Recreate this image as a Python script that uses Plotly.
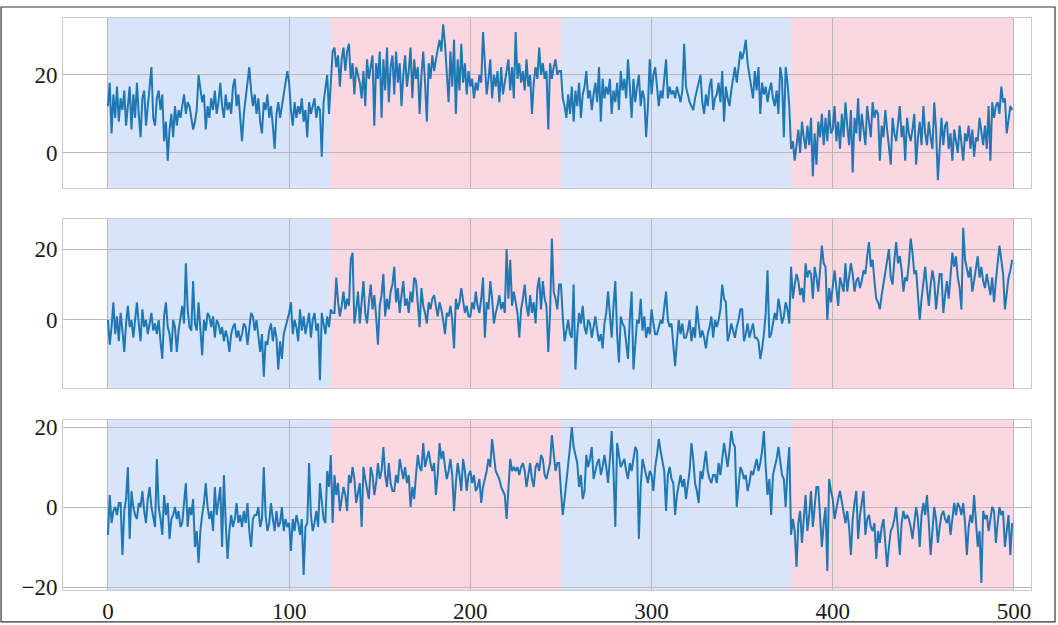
import plotly.graph_objects as go

# Time index and regime change points
steps = list(range(500))
change_points = [0, 123, 250, 377, 500]
regime_colors = ["#d8e4f9", "#fad7e1", "#d8e4f9", "#fad7e1"]

x_ticks = [0, 100, 200, 300, 400, 500]
y_ticks_a = [0, 20]
y_ticks_b = [0, 20]
y_ticks_c = [-20, 0, 20]

# Channel A
series_a = [
    12, 18, 5, 15, 9, 17, 8, 14, 11, 16, 7, 13, 17, 6, 15, 9, 18, 10, 4, 14, 16, 7, 12, 17, 22,
    9, 7, 14, 16, 11, 15, 3, 8, -2, 6, 10, 4, 12, 7, 11, 9, 12, 15, 10, 13, 12, 9, 6, 8, 11,
    20, 16, 13, 15, 6, 12, 9, 14, 11, 16, 10, 13, 18, 12, 9, 15, 11, 13, 10, 17, 19, 12, 15, 9, 3,
    10, 14, 19, 22, 16, 12, 15, 10, 14, 8, 5, 13, 11, 15, 9, 12, 7, 1, 10, 13, 9, 12, 15, 19, 21,
    18, 11, 7, 13, 9, 12, 10, 14, 8, 11, 4, 13, 10, 12, 14, 9, 12, 11, -1, 13, 17, 20, 10, 19, 26,
    27, 22, 25, 17, 24, 27, 21, 26, 28, 19, 23, 15, 22, 20, 18, 14, 21, 12, 24, 19, 22, 25, 7, 23, 19,
    26, 9, 24, 16, 27, 13, 22, 25, 15, 26, 18, 23, 12, 20, 25, 17, 21, 27, 14, 24, 19, 22, 10, 20, 26,
    18, 8, 23, 19, 25, 21, 24, 27, 29, 26, 33, 28, 21, 13, 26, 17, 29, 10, 24, 16, 28, 18, 23, 15, 21,
    17, 19, 14, 18, 16, 20, 18, 31, 22, 15, 19, 24, 14, 20, 17, 21, 13, 22, 15, 18, 20, 24, 16, 22, 14,
    31, 19, 23, 18, 21, 16, 24, 17, 20, 10, 18, 22, 19, 27, 20, 23, 19, 21, 6, 23, 19, 22, 24, 20, 21,
    21, 14, 12, 9, 15, 10, 17, 8, 16, 12, 18, 9, 15, 17, 21, 14, 16, 11, 15, 18, 13, 22, 8, 19, 14,
    17, 15, 19, 10, 16, 13, 18, 11, 21, 16, 19, 14, 24, 17, 9, 19, 13, 17, 20, 12, 16, 14, 4, 12, 24,
    15, 20, 22, 17, 12, 16, 14, 19, 24, 14, 17, 15, 16, 14, 17, 15, 13, 16, 28, 17, 15, 13, 12, 11, 14,
    16, 18, 20, 13, 10, 15, 12, 17, 19, 11, 14, 15, 18, 13, 21, 8, 17, 14, 12, 16, 19, 22, 18, 23, 26,
    24, 26, 29, 23, 20, 17, 14, 21, 16, 22, 10, 18, 15, 17, 13, 16, 18, 14, 12, 16, 10, 22, 19, 4, 22,
    18, 12, 1, 3, -2, 2, 6, 0, 8, 4, 1, 7, 2, 9, -6, 5, -3, 8, 4, 10, 2, 9, 3, 11, 5,
    6, 12, 3, 8, 1, 10, 4, 13, 7, 2, 11, -5, 9, 5, 14, 3, 10, 6, 2, 12, 8, 4, 13, 9, 11,
    10, -2, 7, 4, 11, 6, 1, -3, 9, 5, 3, 8, 12, 4, 7, -2, 9, 5, 3, 6, 10, -3, 4, 8, 2,
    12, 5, 2, 8, 4, 1, 13, 6, -7, 3, 9, 2, 7, 8, 1, 5, -2, 6, 3, 0, 7, 2, -2, 5, 3,
    7, 1, 6, -1, 4, 3, 9, 5, 2, 7, 1, 12, -2, 13, 9, 12, 13, 10, 17, 13, 14, 5, 9, 12, 11,
]

# Channel B
series_b = [
    0, -7, -2, 5, -4, 1, -6, 2, -3, -9, -1, 4, -2, 0, -5, 1, 5, -1, -6, 3, -2, 0, -4, -1, 2,
    -3, -1, -4, 0, -6, -11, 1, 5, -2, -4, -9, 0, -2, -9, -3, 1, 4, -1, 16, 3, -2, -3, 11, -1, -3,
    5, -4, -10, 0, -3, 2, 1, -2, 1, -5, 0, -1, -4, -2, -6, -3, -5, -9, -4, -2, -1, -5, -3, -6, -4,
    -1, -2, -7, -3, 2, 1, -3, 0, -5, -9, -4, -16, -6, -7, -3, -1, -6, -2, -5, -14, -6, -11, -4, -2, 0,
    2, 5, -4, 0, -2, -6, 3, -3, 1, -4, -1, 2, -5, 0, 2, -3, -1, -17, 2, -1, -4, 1, -2, 3, 2,
    2, 12, 5, 1, 4, 8, 3, 6, 4, 17, 19, -1, 3, 8, -1, 4, 11, 2, -1, 5, 10, 3, 7, 1, -7,
    4, 7, 13, 1, 6, 3, 8, 10, 15, 5, 9, 2, 7, 11, 4, 6, 2, 8, 5, 12, 11, 3, -2, 9, 4,
    2, -1, 5, 3, 6, 7, 4, 1, 5, 3, 0, -4, 2, 1, 4, 0, -8, 6, 3, 5, 9, 6, 2, 4, 1,
    1, 5, 3, 8, 4, 2, 6, 12, -5, 5, 3, 11, 6, -1, 2, 4, 7, 3, 5, 2, 20, 6, 17, 4, 8,
    5, 2, -5, 3, 6, 10, 4, 1, 7, 2, 5, -1, 9, 12, 3, 11, 6, 4, -9, 2, 23, 8, 6, 3, 10,
    10, 1, -6, -3, 0, -4, -5, 10, -14, -4, 2, -1, 4, -2, -4, 0, -1, -5, -2, 1, -3, -6, -4, -8, -1,
    2, 8, 0, -5, 4, 11, -4, -12, 1, -1, -2, -6, -11, 0, 8, -14, -8, 0, -1, 6, -3, 1, -5, -2, -4,
    3, -1, -4, -4, -2, 0, -1, 3, 8, 0, -2, -1, -6, -13, -6, 0, -4, -1, -5, -5, -3, 0, -6, -2, -5,
    4, -1, -5, -3, -5, -8, -4, -2, 1, -5, 0, -2, 0, 3, 10, 6, 5, -6, -4, -1, -3, -5, -2, 0, 3,
    3, -6, -4, -1, -5, -3, -1, -5, -5, -6, -11, -8, -4, 2, 14, -5, -4, -1, 2, 0, 6, 3, -1, 1, 5,
    3, -1, 15, 6, 10, 13, 11, 7, 9, 5, 16, 12, 14, 13, 6, 15, 12, 8, 14, 21, 16, 15, 0, 9, 5,
    10, 14, 9, 4, 12, 10, 8, 16, 8, 12, 16, 13, 8, 11, 12, 9, 11, 14, 13, 18, 22, 15, 17, 11, 6,
    5, 3, 7, 10, 13, 16, 20, 12, 10, 17, 22, 16, 18, 14, 8, 12, 11, 16, 23, 19, 13, 14, 8, 0, 6,
    11, 15, 9, 4, 10, 14, 11, 3, 8, 13, 13, 2, 7, 11, 6, 12, 19, 15, 18, 12, 9, 3, 26, 17, 14,
    12, 15, 8, 11, 14, 18, 12, 15, 11, 9, 13, 10, 7, 12, 5, 11, 16, 21, 17, 13, 3, 8, 12, 14, 17,
]

# Channel C
series_c = [
    -7, 3, -4, -1, 0, -2, 1, 1, -12, -1, 2, 10, -8, 4, 0, -2, -3, 1, 0, 4, -1, -4, 2, 5, 0,
    -3, -5, 12, 0, -3, -7, 3, -2, 1, -8, -3, -2, 0, -3, -1, -5, -4, 2, 6, -5, 0, -2, 2, -10, -6,
    -14, -6, -2, 1, 6, 0, -3, -1, -6, 5, -2, 1, 5, -10, 8, -4, -13, -6, -2, -5, -3, 1, -4, -2, -5,
    -1, -4, 1, -6, -10, -3, -2, -2, 0, -5, -3, 10, -2, -6, -4, 1, -3, -6, -1, -5, -4, 0, -6, -3, -5,
    -4, -11, -3, -6, -2, -4, -7, -3, -17, -5, -4, 11, -2, -6, -4, -1, -5, 6, 2, -3, -4, 9, 5, 13, -4,
    8, 3, 6, -1, 2, 5, 3, -1, 8, 6, 10, 7, 1, 4, 6, -5, 10, 7, 4, 2, 10, 8, 3, 6, 11,
    7, 9, 15, 8, 5, 11, 6, 4, 4, 8, 6, 12, 9, 7, 10, 6, 8, 0, 5, 2, 8, 13, 10, 9, 16,
    10, 12, 14, 11, 9, 11, 3, 8, 16, 12, 14, 10, 7, 9, 12, 8, -1, 6, 11, 8, 4, 12, 9, 4, 8,
    9, 6, 8, 4, 5, 7, 1, 5, 7, 9, 12, 10, 17, 13, 9, 8, 7, 5, 4, 3, -3, 6, 12, 9, 10,
    9, 10, 8, 10, 11, 9, 5, 8, 11, 7, 5, 10, 11, 9, 13, 12, 8, 7, 9, 11, 18, 14, 9, 11, 11,
    4, -2, 2, 6, 10, 15, 20, 15, 13, 11, 5, 8, 2, 4, 13, 10, 12, 15, 7, 9, 11, 12, 8, 10, 13,
    10, 6, 12, 19, 9, -5, 16, 13, 10, 11, 12, 9, 7, 11, 9, 12, 15, 14, -8, 5, 12, 10, 8, 6, 9,
    8, 4, 10, 13, 17, 14, 11, 9, -1, 8, 10, 7, 6, -2, 3, 6, 8, 5, 7, 2, 6, 9, 16, 12, 6,
    4, 1, 9, 7, 11, 14, 9, 7, 6, 8, 8, 6, 11, 8, 12, 16, 13, 10, 14, 19, 16, 15, 0, 5, 10,
    9, 7, 8, 4, 6, 9, 8, 10, 12, 9, 11, 14, 19, 10, 3, 7, -2, 8, 10, 12, 15, 11, 8, 7, 0,
    9, 15, -7, -3, -6, -15, -4, -1, -9, -2, 3, -6, -2, 4, -5, 0, 5, 5, -3, -10, -4, 0, -16, 7, 4,
    2, -3, 0, 2, 4, 1, -2, -4, -1, -5, -12, -3, 1, 4, -8, -2, 1, 4, -7, -3, -2, -5, -6, -4, -13,
    -6, -9, -5, -3, -8, -15, -10, -6, -5, -3, 0, -7, -12, -4, -1, -3, -2, -3, -5, -8, -4, 0, -3, -10, -2,
    1, -2, 3, -4, -12, -6, 0, -3, -9, -5, -2, -1, -3, -4, -2, -7, -3, 1, -2, 1, 0, -2, 1, -4, -12,
    -5, -2, -4, 3, -3, -10, -6, -19, -1, -3, -2, -6, -3, 0, -1, -9, -4, 0, -2, -1, -10, -6, -2, -12, -4,
]

assert len(series_a) == len(series_b) == len(series_c) == len(steps)

FONT = dict(family="Liberation Serif", size=23, color="#1a1a1a")
GRID = "#b8b8b8"
FRAME = "#cacaca"

panels = [
    # (axis suffix, values, y ticks, y range, y domain)
    ("", series_a, y_ticks_a, [-9.0, 34.6], [0.7028, 1.0]),
    ("2", series_b, y_ticks_b, [-19.2, 28.5], [0.3531, 0.6486]),
    ("3", series_c, y_ticks_c, [-20.75, 21.75], [0.0, 0.2972]),
]

fig = go.Figure()
shapes = []
layout = {}

for i, (sfx, values, yt, yr, dom) in enumerate(panels):
    fig.add_trace(go.Scatter(
        x=steps, y=values, mode="lines",
        line=dict(color="#1f77b4", width=2),
        xaxis="x" + sfx, yaxis="y" + sfx,
        showlegend=False, hoverinfo="skip",
    ))
    layout["xaxis" + sfx] = dict(
        domain=[0, 1], anchor="y" + sfx, range=[-24.8, 509.4],
        tickmode="array", tickvals=x_ticks, ticktext=[str(t) for t in x_ticks],
        showticklabels=(i == 2), ticks="", automargin=False,
        showgrid=True, gridcolor=GRID, gridwidth=1, zeroline=False,
        showline=True, mirror=True, linecolor=FRAME, linewidth=1,
        tickfont=FONT,
    )
    layout["yaxis" + sfx] = dict(
        domain=dom, anchor="x" + sfx, range=yr,
        tickmode="array", tickvals=yt, ticks="", automargin=False,
        showgrid=True, gridcolor=GRID, gridwidth=1, zeroline=False,
        showline=True, mirror=True, linecolor=FRAME, linewidth=1,
        tickfont=FONT,
    )
    # regime shading spans the full height of each panel
    for k in range(len(change_points) - 1):
        shapes.append(dict(
            type="rect", xref="x" + sfx, yref="y" + sfx + " domain",
            x0=change_points[k], x1=change_points[k + 1], y0=0, y1=1,
            fillcolor=regime_colors[k], line=dict(width=0), layer="below",
        ))

# thin outer frame around the whole figure
shapes.append(dict(
    type="rect", xref="paper", yref="paper",
    x0=-0.0640, x1=1.0248, y0=-0.0559, y1=1.0192,
    line=dict(color="#333333", width=1.2), fillcolor="rgba(0,0,0,0)", layer="above",
))

fig.update_layout(
    width=1058, height=625,
    margin=dict(l=63, r=27, t=18, b=35, autoexpand=False),
    paper_bgcolor="white", plot_bgcolor="white",
    font=FONT, shapes=shapes, showlegend=False,
    **layout,
)

fig.write_html("out.html")
